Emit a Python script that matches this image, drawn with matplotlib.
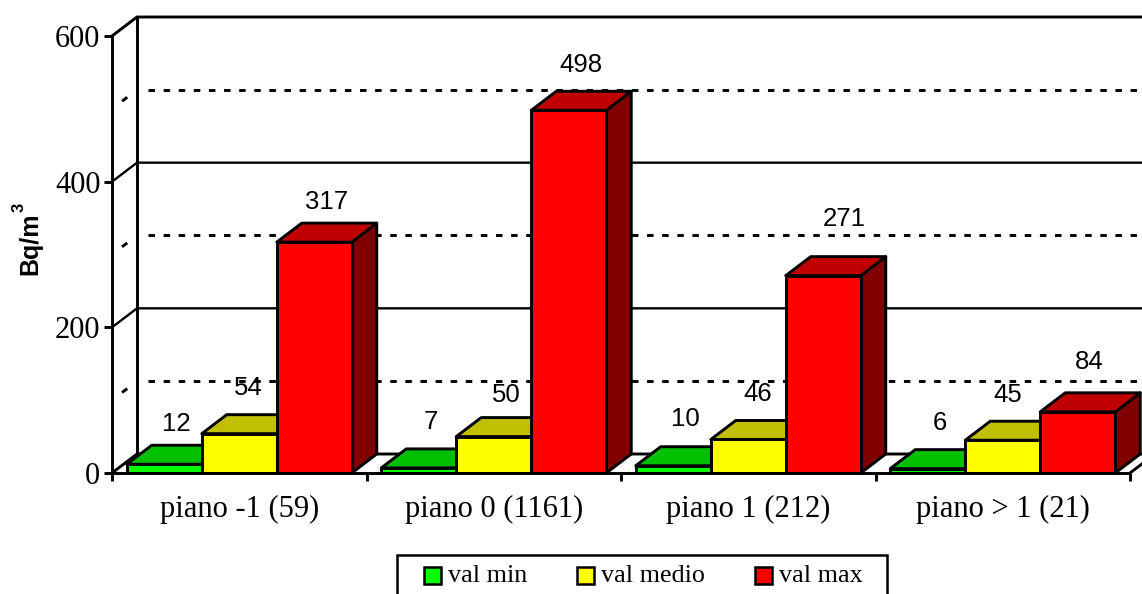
import matplotlib
matplotlib.use('Agg')
import matplotlib.pyplot as plt
from matplotlib.patches import Polygon, Rectangle

# valori
categories = ['piano -1 (59)', 'piano 0 (1161)', 'piano 1 (212)', 'piano > 1 (21)']
val_min = [12, 7, 10, 6]
val_medio = [54, 50, 46, 45]
val_max = [317, 498, 271, 84]
series_names = ['val min', 'val medio', 'val max']
major_ticks = [0, 200, 400, 600]
minor_grid = [100, 300, 500]

# colori: fronte, sopra, lato
front_cols = ['#00FF00', '#FFFF00', '#FF0000']
top_cols = ['#00C000', '#C0C000', '#C00000']
side_cols = ['#008000', '#808000', '#800000']

W, H = 1142, 594
SERIF = 'Liberation Serif'
SANS = 'Liberation Sans'
LW = 2.1
GRID_LW = 1.7
DASH_LW = 2.1

fig = plt.figure(figsize=(W / 100, H / 100), dpi=100)
ax = fig.add_axes([112 / W, (H - 473) / H, 1018 / W, 437 / H])
ax.set_xlim(0, 4)
ax.set_ylim(0, 600)

# profondita 3D e larghezza barre in unita dati
dx = 25 / 254.5
dy = 19 / (437 / 600)
bar_w = 75 / 254.5
gap = 14.75 / 254.5
x_end = 4 + dx


def wall_line(x, y, **kw):
    ax.plot(x, y, color='black', clip_on=False, solid_capstyle='projecting', **kw)


# griglia sulla parete di fondo e sul lato sinistro
for v in major_ticks:
    wall_line([0, dx, x_end], [v, v + dy, v + dy], lw=LW if v in (0, 600) else GRID_LW, zorder=1)
for v in minor_grid:
    ax.plot([dx + 11 / 254.5, x_end], [v + dy, v + dy], color='black', lw=DASH_LW,
            linestyle=(0, (2.23, 2.95)), dash_capstyle='butt', clip_on=False, zorder=1)
    ax.plot([0, dx], [v, v + dy], color='black', lw=DASH_LW,
            linestyle=(1.8, (2.23, 3.9, 2.23, 30)), dash_capstyle='butt', clip_on=False, zorder=1)
wall_line([dx, dx], [dy, 600 + dy], lw=LW, zorder=1)
wall_line([4, x_end], [0, dy], lw=LW, zorder=1)

# barre
order = 2
for i in range(len(categories)):
    for j, vals in enumerate([val_min, val_medio, val_max]):
        x0 = i + gap + j * bar_w
        x1 = x0 + bar_w
        v = vals[i]
        ax.add_patch(Polygon([(x1, 0), (x1 + dx, dy), (x1 + dx, v + dy), (x1, v)],
                             facecolor=side_cols[j], edgecolor='black', lw=LW,
                             joinstyle='round', clip_on=False, zorder=order))
        ax.add_patch(Polygon([(x0, v), (x0 + dx, v + dy), (x1 + dx, v + dy), (x1, v)],
                             facecolor=top_cols[j], edgecolor='black', lw=LW,
                             joinstyle='round', clip_on=False, zorder=order))
        ax.bar(x0, v, width=bar_w, align='edge', color=front_cols[j], edgecolor='black',
               linewidth=LW, clip_on=False, zorder=order)
        order += 1

# etichette dei valori (scarto in pixel rispetto al fronte della barra)
offs_min = [(0, 40), (0, 46), (0, 47), (0, 46)]
offs_medio = [(-3, 46), (0, 42), (-3, 45), (-7, 45)]
offs_max = [(0, 40), (0, 45), (9, 57), (-1, 50)]
for j, (vals, offs) in enumerate(zip([val_min, val_medio, val_max], [offs_min, offs_medio, offs_max])):
    for i, v in enumerate(vals):
        xc = i + gap + j * bar_w + bar_w / 2 + dx / 2
        ax.annotate(str(v), xy=(xc, v), xytext=(offs[i][0] * 0.72, offs[i][1] * 0.72),
                    textcoords='offset points', ha='center', va='center',
                    family=SANS, fontsize=18.5, color='black', zorder=50, annotation_clip=False)

# assi
for s in ['top', 'right']:
    ax.spines[s].set_visible(False)
for s in ['left', 'bottom']:
    ax.spines[s].set_linewidth(LW)
    ax.spines[s].set_zorder(40)
ax.set_yticks(major_ticks)
ax.set_yticklabels([str(v) for v in major_ticks], family=SERIF, fontsize=22)
ax.set_xticks(range(5))
ax.set_xticklabels([])
ax.set_xticks([i + 0.5 for i in range(4)], minor=True)
ax.set_xticklabels(categories, minor=True, family=SERIF, fontsize=22)
ax.tick_params(axis='both', which='major', length=5.8, width=LW, pad=2.5)
ax.tick_params(axis='x', which='minor', length=0, pad=16)
ax.patch.set_visible(False)


def fx(px):
    return px / W


def fy(py):
    return 1 - py / H


# titolo asse y con esponente a parte
fig.text(fx(37), fy(275), 'Bq/m', rotation=90, ha='left', va='baseline', rotation_mode='anchor',
         family=SANS, fontweight='bold', fontsize=18)
fig.text(fx(24), fy(212), '3', rotation=90, ha='left', va='baseline', rotation_mode='anchor',
         family=SANS, fontweight='bold', fontsize=12)

# legenda disegnata a mano (tagliata in basso come nell'originale)
fig.add_artist(Rectangle((fx(397), fy(597)), 490 / W, 42 / H, transform=fig.transFigure,
                         facecolor='white', edgecolor='black', lw=1.8))
swatch_x = [424, 577, 755]
text_x = [448, 601, 779]
for name, col, sx, tx in zip(series_names, front_cols, swatch_x, text_x):
    fig.add_artist(Rectangle((fx(sx), fy(583.5)), 17 / W, 17 / H, transform=fig.transFigure,
                             facecolor=col, edgecolor='black', lw=1.8))
    fig.text(fx(tx), fy(576.5), name, ha='left', va='center', family=SERIF, fontsize=18.8)

fig.savefig('out.png', dpi=100)
